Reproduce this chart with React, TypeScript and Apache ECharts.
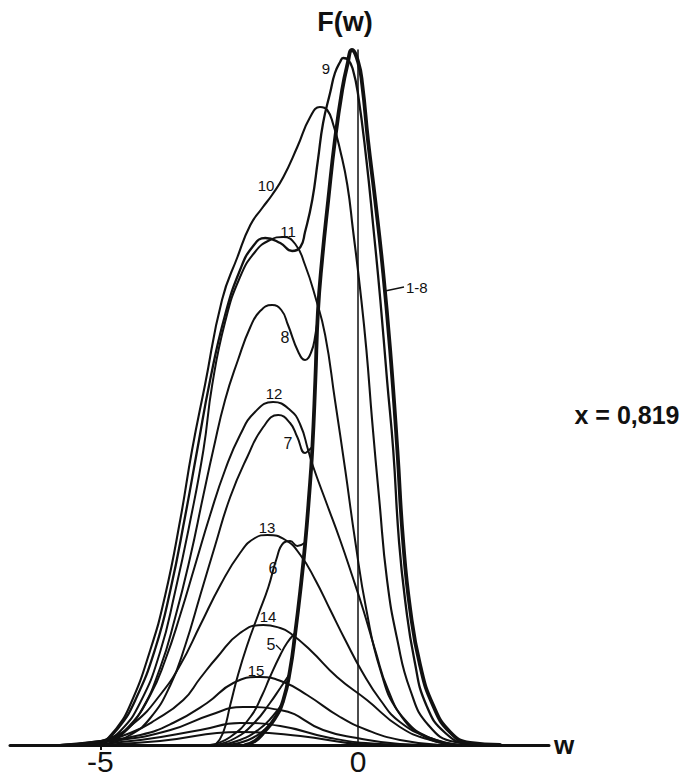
import { useEffect, useRef } from "react";
import * as echarts from "echarts";

// x-axis tick values / labels
const tickValues = [-5, 0];
const tickLabels = ["-5", "0"];

// Curves 1-8 share this main (thick) peak
const curveMain1to8: number[][] = [
  [-2.19, 0], [-2.0, 0.4], [-1.84, 1.2], [-1.61, 2.7], [-1.45, 4.5], [-1.32, 7.5],
  [-1.22, 11.2], [-1.12, 15.5], [-1.03, 20.0], [-0.95, 25.0], [-0.89, 29.5],
  [-0.83, 36.5], [-0.78, 43.3], [-0.7, 48.5], [-0.58, 54.5], [-0.45, 60.5],
  [-0.31, 65.5], [-0.21, 68.0], [-0.12, 69.5], [0, 68.3], [0.08, 66.0],
  [0.19, 60.5], [0.33, 54.5], [0.48, 47.5], [0.62, 39.5], [0.76, 29.5],
  [0.87, 20.5], [1.01, 13.5], [1.2, 8.0], [1.45, 4.0], [1.78, 1.3], [2.17, 0.2], [2.75, 0],
];

// left branches (side humps) of curves 2..8, ending on the main peak
const curve8: number[][] = [
  [-4.9, 0], [-4.61, 0.9], [-4.22, 3.3], [-3.84, 7.7], [-3.55, 12.7], [-3.26, 18.7],
  [-3.0, 25.0], [-2.81, 29.5], [-2.58, 34.5], [-2.33, 38.5], [-2.09, 41.8],
  [-1.9, 43.4], [-1.67, 44.0], [-1.49, 43.5], [-1.36, 42.0], [-1.16, 39.3],
  [-1.03, 38.5], [-0.91, 39.3], [-0.83, 41.0], [-0.78, 43.0],
];
const curve7: number[][] = [
  [-4.9, 0], [-4.42, 1.0], [-4.03, 2.7], [-3.64, 6.0], [-3.35, 10.0], [-3.06, 15.0],
  [-2.77, 20.0], [-2.48, 24.8], [-2.15, 28.8], [-1.84, 31.8], [-1.55, 33.0],
  [-1.32, 32.2], [-1.18, 30.8], [-1.03, 29.2], [-0.95, 29.5], [-0.89, 29.8],
];
const curve6: number[][] = [
  [-2.77, 0], [-2.62, 1.2], [-2.48, 4.0], [-2.33, 7.0], [-2.15, 10.0], [-1.94, 13.0],
  [-1.74, 15.8], [-1.59, 18.5], [-1.45, 20.2], [-1.32, 20.4], [-1.18, 19.9], [-1.04, 20.2],
];
const curve5: number[][] = [
  [-2.87, 0], [-2.48, 0.8], [-2.09, 2.8], [-1.86, 5.0], [-1.71, 6.8], [-1.51, 9.0],
  [-1.38, 10.2], [-1.24, 11.1],
];
const curve4: number[][] = [
  [-2.77, 0], [-2.38, 0.7], [-2.0, 2.3], [-1.71, 4.2], [-1.51, 5.7], [-1.34, 7.0],
];
const curve3: number[][] = [
  [-2.67, 0], [-2.29, 0.5], [-1.94, 1.5], [-1.67, 2.8], [-1.45, 4.3],
];
const curve2: number[][] = [
  [-2.52, 0], [-2.13, 0.5], [-1.8, 1.6], [-1.61, 2.7],
];

const curve9: number[][] = [
  [-5.0, 0], [-4.65, 1.7], [-4.32, 4.5], [-3.93, 9.7], [-3.64, 15.5], [-3.35, 23.0],
  [-3.12, 29.5], [-2.87, 36.5], [-2.58, 43.0], [-2.29, 47.5], [-2.05, 49.8],
  [-1.8, 50.7], [-1.51, 50.2], [-1.28, 49.4], [-1.12, 49.8], [-1.03, 51.3],
  [-0.89, 54.5], [-0.78, 58.5], [-0.68, 62.2], [-0.54, 65.3], [-0.45, 67.2],
  [-0.35, 68.3], [-0.29, 68.7], [-0.19, 68.5], [-0.1, 67.5], [0, 65.0],
  [0.16, 58.5], [0.29, 52.0], [0.43, 44.5], [0.56, 36.5], [0.68, 29.5],
  [0.79, 20.5], [0.91, 14.5], [1.09, 8.5], [1.32, 4.0], [1.69, 1.2], [2.17, 0.1], [2.75, 0],
];
const curve10: number[][] = [
  [-5.0, 0], [-4.71, 1.5], [-4.42, 4.0], [-4.03, 9.5], [-3.74, 15.0], [-3.45, 22.5],
  [-3.22, 29.5], [-2.97, 36.0], [-2.64, 44.5], [-2.34, 48.8], [-2.09, 52.0],
  [-1.86, 53.7], [-1.67, 55.0], [-1.45, 56.8], [-1.18, 59.8], [-0.93, 62.8],
  [-0.74, 63.8], [-0.6, 63.5], [-0.48, 62.0], [-0.35, 59.5], [-0.21, 56.0],
  [-0.1, 51.5], [0.04, 45.5], [0.16, 39.5], [0.27, 32.5], [0.41, 24.5],
  [0.56, 16.5], [0.76, 10.5], [1.01, 5.5], [1.36, 2.0], [1.88, 0.3], [2.56, 0],
];
const curve11: number[][] = [
  [-5.0, 0], [-4.61, 1.4], [-4.22, 4.3], [-3.84, 9.3], [-3.55, 15.3], [-3.26, 22.3],
  [-3.0, 29.5], [-2.83, 36.0], [-2.58, 42.3], [-2.29, 46.8], [-2.0, 49.3],
  [-1.71, 50.5], [-1.45, 50.8], [-1.22, 50.1], [-1.03, 48.0], [-0.83, 44.8],
  [-0.64, 41.0], [-0.45, 34.5], [-0.25, 27.5], [-0.06, 20.5], [0.16, 13.5],
  [0.43, 7.5], [0.78, 3.3], [1.3, 0.8], [1.88, 0],
];
const curve12: number[][] = [
  [-5.19, 0], [-4.81, 0.5], [-4.42, 2.0], [-4.03, 5.0], [-3.74, 8.5], [-3.45, 13.0],
  [-3.16, 18.0], [-2.87, 23.0], [-2.58, 27.5], [-2.29, 31.0], [-2.0, 33.3],
  [-1.65, 34.3], [-1.32, 33.5], [-1.12, 32.0], [-0.97, 29.5], [-0.87, 27.8],
  [-0.6, 24.0], [-0.35, 20.5], [-0.12, 17.0], [0.1, 13.5], [0.33, 9.5],
  [0.58, 5.5], [0.91, 2.5], [1.4, 0.7], [1.98, 0],
];
const curve13: number[][] = [
  [-5.39, 0], [-4.81, 0.7], [-4.32, 2.3], [-3.84, 5.0], [-3.45, 8.0], [-3.06, 12.0],
  [-2.67, 16.0], [-2.29, 19.2], [-2.0, 20.7], [-1.76, 21.0], [-1.41, 20.5],
  [-1.12, 19.0], [-0.83, 16.5], [-0.54, 13.5], [-0.25, 10.5], [0.08, 7.3],
  [0.43, 4.5], [0.81, 2.3], [1.4, 0.7], [1.98, 0],
];
const curve14: number[][] = [
  [-5.78, 0], [-5.0, 0.4], [-4.42, 1.2], [-3.93, 2.5], [-3.39, 4.5], [-3.06, 6.7],
  [-2.73, 8.8], [-2.29, 11.2], [-1.84, 12.0], [-1.51, 11.7], [-1.32, 11.2],
  [-0.93, 9.5], [-0.41, 6.8], [0.17, 4.5], [0.81, 1.8], [1.4, 0.5], [1.98, 0],
];
const curve15: number[][] = [
  [-5.78, 0], [-5.0, 0.4], [-4.22, 1.0], [-3.59, 2.2], [-2.93, 4.2], [-2.42, 6.2],
  [-1.9, 6.8], [-1.45, 6.3], [-0.99, 5.0], [-0.35, 2.8], [0.17, 1.5], [0.81, 0.5], [1.59, 0],
];
const curve16: number[][] = [
  [-5.78, 0], [-4.61, 0.5], [-3.64, 1.5], [-2.87, 3.0], [-2.23, 3.8], [-1.51, 3.5],
  [-0.68, 1.5], [-0.02, 0.7], [0.81, 0.1], [1.4, 0],
];
const curve17: number[][] = [
  [-5.39, 0], [-4.22, 0.5], [-3.06, 1.5], [-2.29, 2.2], [-1.51, 1.9], [-0.54, 0.7],
  [0.43, 0.1], [1.2, 0],
];
const curve18: number[][] = [
  [-5.0, 0], [-3.84, 0.4], [-2.29, 1.3], [-1.12, 0.9], [0.04, 0.1], [0.81, 0],
];

const thinCurves: number[][][] = [
  curve2, curve3, curve4, curve5, curve6, curve7, curve8,
  curve11, curve12, curve13, curve14, curve15, curve16, curve17, curve18,
];

const FONT = "'Liberation Sans', Arial, sans-serif";

export default function App() {
  const ref = useRef<HTMLDivElement>(null);

  useEffect(() => {
    if (!ref.current) return;
    const chart = echarts.init(ref.current, null, { renderer: "svg" });

    const mk = (data: number[][], width: number) => ({
      type: "line",
      data,
      showSymbol: false,
      smooth: 0.5,
      clip: false,
      silent: true,
      emphasis: { disabled: true },
      lineStyle: { color: "#111", width, join: "round", cap: "round" },
    });

    const series: any[] = [
      ...thinCurves.map((d) => mk(d, 2.0)),
      mk(curve10, 2.1),
      mk(curve9, 2.3),
      mk(curveMain1to8, 3.8),
    ];

    const lbl = (text: string, x: number, y: number, size = 15, weight = "normal") => ({
      type: "text",
      x,
      y,
      silent: true,
      style: {
        text,
        fill: "#111",
        font: `${weight} ${size}px ${FONT}`,
        align: "center",
        verticalAlign: "middle",
      },
    });

    chart.setOption({
      animation: false,
      backgroundColor: "#ffffff",
      grid: { left: 10, right: 139, top: 50, bottom: 34, containLabel: false },
      xAxis: {
        type: "value",
        min: -6.75,
        max: 3.7,
        name: "w",
        nameLocation: "end",
        nameGap: 5,
        nameTextStyle: {
          color: "#111",
          fontFamily: FONT,
          fontWeight: "bold",
          fontSize: 26,
          verticalAlign: "middle",
          align: "left",
          padding: [0, 0, 6, 0],
        },
        axisLine: { show: true, onZero: false, lineStyle: { color: "#111", width: 3 } },
        axisTick: {
          show: true,
          customValues: [-5],
          length: 5,
          lineStyle: { color: "#111", width: 2 },
        },
        axisLabel: {
          show: true,
          customValues: tickValues,
          formatter: (v: number) => tickLabels[tickValues.indexOf(v)] ?? "",
          color: "#111",
          fontFamily: FONT,
          fontSize: 30,
          lineHeight: 30,
          margin: 1,
        },
        splitLine: { show: false },
      },
      yAxis: {
        type: "value",
        min: 0,
        max: 69.5,
        axisLine: { show: true, onZero: true, lineStyle: { color: "#111", width: 1.5 } },
        axisTick: { show: false },
        axisLabel: { show: false },
        splitLine: { show: false },
      },
      series,
      graphic: [
        lbl("F(w)", 345, 22, 27, "bold"),
        lbl("x = 0,819", 627, 415, 25, "bold"),
        lbl("9", 326, 68, 15),
        lbl("10", 266, 185),
        lbl("11", 288, 231),
        lbl("8", 285, 337, 16),
        lbl("12", 274, 393),
        lbl("7", 288, 443, 16),
        lbl("13", 267, 527),
        lbl("6", 273, 568, 16),
        lbl("14", 268, 616),
        lbl("5", 271, 644, 16),
        lbl("15", 256, 670),
        {
          type: "text",
          x: 406,
          y: 287,
          silent: true,
          style: {
            text: "1-8",
            fill: "#111",
            font: `15px ${FONT}`,
            align: "left",
            verticalAlign: "middle",
          },
        },
        {
          type: "line",
          silent: true,
          shape: { x1: 385, y1: 291, x2: 404, y2: 287 },
          style: { stroke: "#111", lineWidth: 1.3 },
        },
        {
          type: "line",
          silent: true,
          shape: { x1: 276, y1: 645, x2: 281, y2: 650 },
          style: { stroke: "#111", lineWidth: 1.3 },
        },
      ],
    });

    return () => chart.dispose();
  }, []);

  return (
    <div
      ref={ref}
      style={{ position: "absolute", left: 0, top: 0, width: 688, height: 779, background: "#fff" }}
    />
  );
}
